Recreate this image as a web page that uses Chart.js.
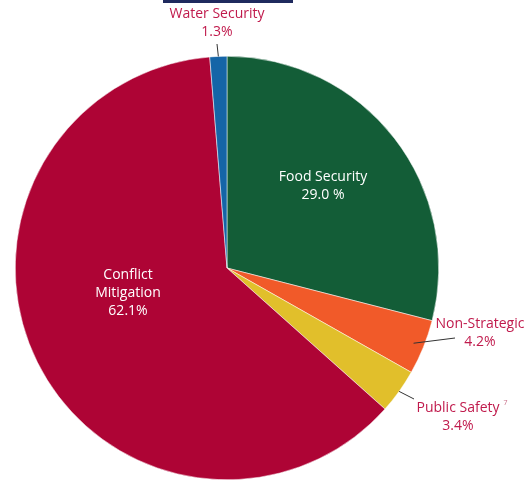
<!DOCTYPE html>
<html>
<head>
<meta charset="utf-8">
<script src="https://cdn.jsdelivr.net/npm/chart.js@4/dist/chart.umd.min.js"></script>
<style>
  html, body { margin: 0; padding: 0; background: #fff; }
  #wrap { width: 531px; height: 480px; position: relative; }
</style>
</head>
<body>
<div id="wrap"><canvas id="pie" width="531" height="480"></canvas></div>
<script>
// Budget share by category, clockwise from 12 o'clock
const categories = ['Food Security', 'Non-Strategic', 'Public Safety', 'Conflict Mitigation', 'Water Security'];
const shares = [29.0, 4.2, 3.4, 62.1, 1.3];
const shareText = ['29.0 %', '4.2%', '3.4%', '62.1%', '1.3%'];
const sliceColors = ['#135d37', '#f15a29', '#e1bf2b', '#ae0435', '#1565a7'];

// label layout: text lines, anchor offset from pie centre, inside or outside
const labelSpots = [
  { lines: ['Food Security'], dx: 96, dy: -82, inside: true },
  { lines: ['Non-Strategic'], dx: 253, dy: 65, inside: false, from: 0.95, to: [455, 338] },
  { lines: ['Public Safety'], dx: 231, dy: 149, inside: false, from: 1.0, to: [414, 399], note: '7' },
  { lines: ['Conflict', 'Mitigation'], dx: -99, dy: 25, inside: true },
  { lines: ['Water Security'], dx: -10, dy: -245, inside: false, from: 1.0, to: [217, 44] }
];

const FONT = '14px "Open Sans", sans-serif';
const LINE_H = 18;

const pieLabels = {
  id: 'pieLabels',
  afterDraw(chart) {
    const ctx = chart.ctx;
    const arcs = chart.getDatasetMeta(0).data;
    ctx.save();

    // navy rule along the top edge
    ctx.fillStyle = '#1f2a5e';
    ctx.fillRect(163, 0, 130, 3);

    ctx.font = FONT;
    ctx.textAlign = 'center';
    ctx.textBaseline = 'middle';
    arcs.forEach((arc, i) => {
      const p = arc.getProps(['x', 'y', 'startAngle', 'endAngle', 'outerRadius']);
      const spot = labelSpots[i];
      const cx = p.x + spot.dx;
      const cy = p.y + spot.dy;
      const lines = spot.lines.concat([shareText[i]]);
      const top = cy - (lines.length - 1) * LINE_H / 2;

      if (!spot.inside) {
        const mid = (p.startAngle + p.endAngle) / 2;
        const r = p.outerRadius * spot.from;
        ctx.strokeStyle = '#333';
        ctx.lineWidth = 1;
        ctx.beginPath();
        ctx.moveTo(p.x + Math.cos(mid) * r, p.y + Math.sin(mid) * r);
        ctx.lineTo(spot.to[0], spot.to[1]);
        ctx.stroke();
      }

      ctx.fillStyle = spot.inside ? '#ffffff' : '#c01a4c';
      lines.forEach((t, k) => ctx.fillText(t, cx, top + k * LINE_H));

      if (spot.note) {
        const w = ctx.measureText(spot.lines[0]).width;
        ctx.font = '7px "Open Sans", sans-serif';
        ctx.fillStyle = '#c9708a';
        ctx.fillText(spot.note, cx + w / 2 + 6, top - 5);
        ctx.font = FONT;
      }
    });
    ctx.restore();
  }
};

new Chart(document.getElementById('pie'), {
  type: 'pie',
  data: {
    labels: categories,
    datasets: [{
      data: shares,
      backgroundColor: sliceColors,
      borderColor: '#ffffff',
      borderWidth: 0.5
    }]
  },
  options: {
    responsive: false,
    animation: false,
    layout: { padding: { left: 15, right: 92, top: 56, bottom: 0 } },
    plugins: {
      legend: { display: false },
      tooltip: { enabled: false }
    }
  },
  plugins: [pieLabels]
});
</script>
</body>
</html>
